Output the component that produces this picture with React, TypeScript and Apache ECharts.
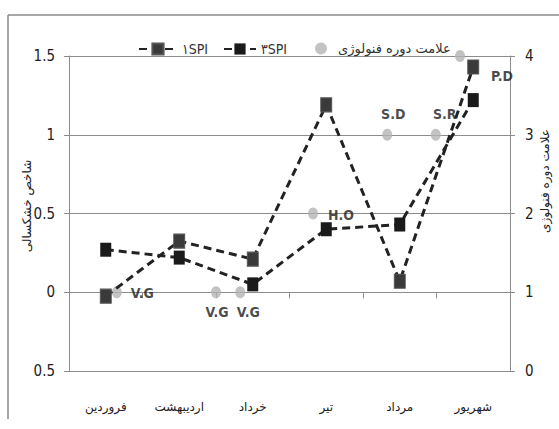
import React, { useEffect, useRef } from "react";
import * as echarts from "echarts";

const months = ["فروردین", "اردیبهشت", "خرداد", "تیر", "مرداد", "شهریور"];
const spi1 = [-0.025, 0.325, 0.21, 1.19, 0.07, 1.43];
const spi3 = [0.27, 0.22, 0.05, 0.4, 0.43, 1.22];
const phenoX = [0.65, 2.0, 2.33, 3.32, 4.33, 4.99, 5.32];
const phenoY = [1, 1, 1, 2, 3, 3, 4];
const phenoLabels = ["V.G", "V.G", "V.G", "H.O", "S.D", "S.R", "P.D"];
const leftTicks = [-0.5, 0, 0.5, 1, 1.5];
const rightTicks = [0, 1, 2, 3, 4];

const labelPlacement: any[] = [
  { position: "right", distance: 9, offset: [0, 1] },
  { position: "bottom", distance: 7, offset: [1, 0] },
  { position: "bottom", distance: 7, offset: [8, 0] },
  { position: "right", distance: 10, offset: [0, 1] },
  { position: "top", distance: 8, offset: [6, 0] },
  { position: "top", distance: 8, offset: [9, 0] },
  { position: "right", distance: 26, offset: [0, 20] },
];

const narrow = "'Liberation Sans Narrow', 'DejaVu Sans Condensed', sans-serif";
const persian = "'DejaVu Sans', 'Noto Sans', sans-serif";
const gray = "#8c8c8c";
const labelFont = {
  show: true,
  fontFamily: "'DejaVu Sans Condensed', sans-serif",
  fontSize: 14,
  fontWeight: "bold",
  color: "#1a1a1a",
  textBorderWidth: 0,
};

export default function App() {
  const ref = useRef<HTMLDivElement>(null);
  useEffect(() => {
    const chart = echarts.init(ref.current!, null, { renderer: "svg" });
    const s1 = "۱SPI";
    const s3 = "۳SPI";
    const sp = "علامت دوره فنولوژی";
    chart.setOption({
      animation: false,
      backgroundColor: "#ffffff",
      grid: { left: 69, right: 49, top: 56, bottom: 58, containLabel: false, outerBoundsMode: "none" },
      legend: [
        {
          data: [s1],
          left: 133,
          top: 37,
          itemWidth: 38,
          itemHeight: 14,
          itemGap: 5,
          textStyle: { fontFamily: narrow, fontSize: 14, color: "#333" },
        },
        {
          data: [s3],
          left: 218,
          top: 37,
          itemWidth: 32,
          itemHeight: 14,
          textStyle: { fontFamily: narrow, fontSize: 14, color: "#333" },
        },
        {
          data: [sp],
          left: 310,
          top: 37,
          itemWidth: 24,
          itemHeight: 12,
          textStyle: { fontFamily: persian, fontSize: 13, color: "#333" },
        },
      ],
      xAxis: [
        {
          type: "category",
          data: months,
          boundaryGap: true,
          axisLine: { show: true, onZero: true, onZeroAxisIndex: 0, lineStyle: { color: gray, width: 1 } },
          axisTick: { show: true, inside: false, length: 6, lineStyle: { color: gray } },
          axisLabel: { show: false },
          splitLine: { show: false },
        },
        {
          type: "value",
          min: 0,
          max: 6,
          show: false,
        },
        {
          type: "category",
          data: months,
          boundaryGap: true,
          position: "bottom",
          axisLine: { show: false, onZero: false },
          axisTick: { show: false },
          axisLabel: { margin: 30, fontFamily: persian, fontSize: 12, color: "#222" },
          splitLine: { show: false },
        },
      ],
      yAxis: [
        {
          type: "value",
          min: leftTicks[0],
          max: leftTicks[leftTicks.length - 1],
          interval: 0.5,
          axisLine: { show: true, lineStyle: { color: gray } },
          axisTick: { show: true, inside: false, length: 5, lineStyle: { color: gray } },
          axisLabel: {
            margin: 14,
            fontFamily: narrow,
            fontSize: 15,
            color: "#222",
            formatter: (v: number) => String(Math.abs(v)),
          },
          splitLine: { show: true, lineStyle: { color: gray, width: 1 } },
        },
        {
          type: "value",
          min: rightTicks[0],
          max: rightTicks[rightTicks.length - 1],
          interval: 1,
          position: "right",
          axisLine: { show: true, lineStyle: { color: gray } },
          axisTick: { show: true, inside: false, length: 5, lineStyle: { color: gray } },
          axisLabel: { margin: 15, fontFamily: narrow, fontSize: 15, color: "#222" },
          splitLine: { show: false },
        },
      ],
      series: [
        {
          name: s1,
          type: "line",
          xAxisIndex: 0,
          yAxisIndex: 0,
          data: spi1,
          symbol: "rect",
          symbolSize: [11, 14],
          itemStyle: { color: "#3a3a3a", borderColor: "#555", borderWidth: 1 },
          lineStyle: { color: "#222", width: 3, type: [8, 5] },
          z: 3,
        },
        {
          name: s3,
          type: "line",
          xAxisIndex: 0,
          yAxisIndex: 0,
          data: spi3,
          symbol: "rect",
          symbolSize: [11, 14],
          itemStyle: { color: "#1a1a1a" },
          lineStyle: { color: "#222", width: 3, type: [8, 5] },
          z: 3,
        },
        {
          name: sp,
          type: "scatter",
          xAxisIndex: 1,
          yAxisIndex: 1,
          symbol: "circle",
          symbolSize: [10, 12],
          itemStyle: { color: "#b4b4b4" },
          z: 2,
          label: {
            ...labelFont,
            formatter: (p: any) => phenoLabels[p.dataIndex],
          },
          data: phenoX.map((x, i) => ({
            value: [x, phenoY[i]],
            label: { ...labelFont, ...labelPlacement[i] },
          })),
        },
      ],
      graphic: [
        { type: "line", shape: { x1: 8, y1: 15, x2: 559, y2: 15 }, style: { stroke: "#8a8a8a", lineWidth: 1.5 } },
        { type: "line", shape: { x1: 8, y1: 15, x2: 8, y2: 419 }, style: { stroke: "#8a8a8a", lineWidth: 1.5 } },
        {
          type: "text",
          x: 27,
          y: 206,
          rotation: Math.PI / 2,
          style: {
            text: "شاخص خشکسالی",
            fontFamily: persian,
            fontSize: 12,
            fill: "#222",
            align: "center",
            verticalAlign: "middle",
          },
        },
        {
          type: "text",
          x: 545,
          y: 181,
          rotation: Math.PI / 2,
          style: {
            text: "علامت دوره فنولوژی",
            fontFamily: persian,
            fontSize: 12,
            fill: "#222",
            align: "center",
            verticalAlign: "middle",
          },
        },
      ],
    });
    return () => chart.dispose();
  }, []);
  return (
    <div
      ref={ref}
      style={{ position: "fixed", left: 0, top: 0, width: 559, height: 429, background: "#fff" }}
    />
  );
}
